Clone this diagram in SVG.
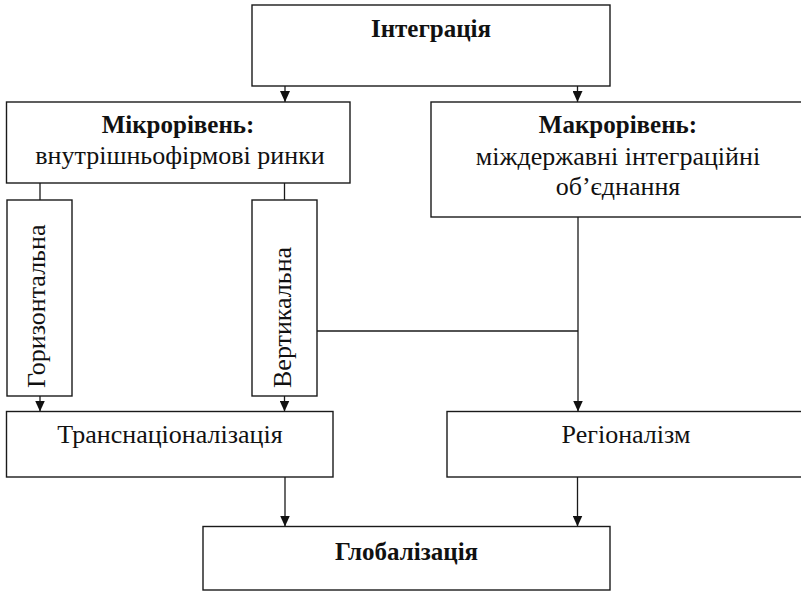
<svg xmlns="http://www.w3.org/2000/svg" width="801" height="592" viewBox="0 0 801 592">
  <style>
    .box { fill: #fff; stroke: #1a1a1a; stroke-width: 1.4; }
    .wire { fill: none; stroke: #1a1a1a; stroke-width: 1.3; }
    text { font-family: 'Liberation Serif', 'DejaVu Serif', serif; font-size: 26px; fill: #111; }
    .c { text-anchor: middle; }
    .b { font-weight: bold; font-size: 25px; }
  </style>
  <defs>
    <marker id="arrow" markerUnits="userSpaceOnUse" markerWidth="11" markerHeight="10" refX="11" refY="5" orient="auto">
      <path d="M0,0 L11,5 L0,10 Z" fill="#111"/>
    </marker>
  </defs>

  <rect width="801" height="592" fill="#fff"/>

  <!-- connectors -->
  <g id="connectors">
    <line class="wire" x1="285" y1="86" x2="285" y2="102" marker-end="url(#arrow)"/>
    <line class="wire" x1="577.5" y1="86" x2="577.5" y2="102" marker-end="url(#arrow)"/>
    <line class="wire" x1="40" y1="183" x2="40" y2="200"/>
    <line class="wire" x1="284.5" y1="183" x2="284.5" y2="200"/>
    <line class="wire" x1="40" y1="396" x2="40" y2="411.5" marker-end="url(#arrow)"/>
    <line class="wire" x1="284.5" y1="396" x2="284.5" y2="411.5" marker-end="url(#arrow)"/>
    <line class="wire" x1="317" y1="331" x2="578" y2="331"/>
    <line class="wire" x1="578" y1="217" x2="578" y2="411.5" marker-end="url(#arrow)"/>
    <line class="wire" x1="285" y1="477" x2="285" y2="526.5" marker-end="url(#arrow)"/>
    <line class="wire" x1="577.5" y1="477" x2="577.5" y2="526.5" marker-end="url(#arrow)"/>
  </g>

  <g id="integration">
    <rect class="box" x="252" y="5" width="358" height="81"/>
    <text class="b c" x="431" y="37">Інтеграція</text>
  </g>

  <g id="micro">
    <rect class="box" x="6.5" y="102" width="343.5" height="81"/>
    <text class="b c" x="178" y="133">Мікрорівень:</text>
    <text class="c" x="180" y="164">внутрішньофірмові ринки</text>
  </g>

  <g id="macro">
    <rect class="box" x="431" y="102" width="380" height="115"/>
    <text class="b c" x="618" y="133">Макрорівень:</text>
    <text class="c" x="618" y="165">міждержавні інтеграційні</text>
    <text class="c" x="618" y="195">об’єднання</text>
  </g>

  <g id="horizontal">
    <rect class="box" x="7" y="200" width="65" height="196"/>
    <text transform="translate(45,388) rotate(-90)">Горизонтальна</text>
  </g>

  <g id="vertical">
    <rect class="box" x="252" y="200" width="65" height="196"/>
    <text transform="translate(291,388) rotate(-90)">Вертикальна</text>
  </g>

  <g id="transnational">
    <rect class="box" x="6.5" y="411.5" width="326.5" height="65.5"/>
    <text class="c" x="170" y="443">Транснаціоналізація</text>
  </g>

  <g id="regionalism">
    <rect class="box" x="447" y="411.5" width="364" height="65.5"/>
    <text class="c" x="626" y="443">Регіоналізм</text>
  </g>

  <g id="globalization">
    <rect class="box" x="203" y="526.5" width="407" height="63.5"/>
    <text class="b c" x="406.5" y="560">Глобалізація</text>
  </g>
</svg>
